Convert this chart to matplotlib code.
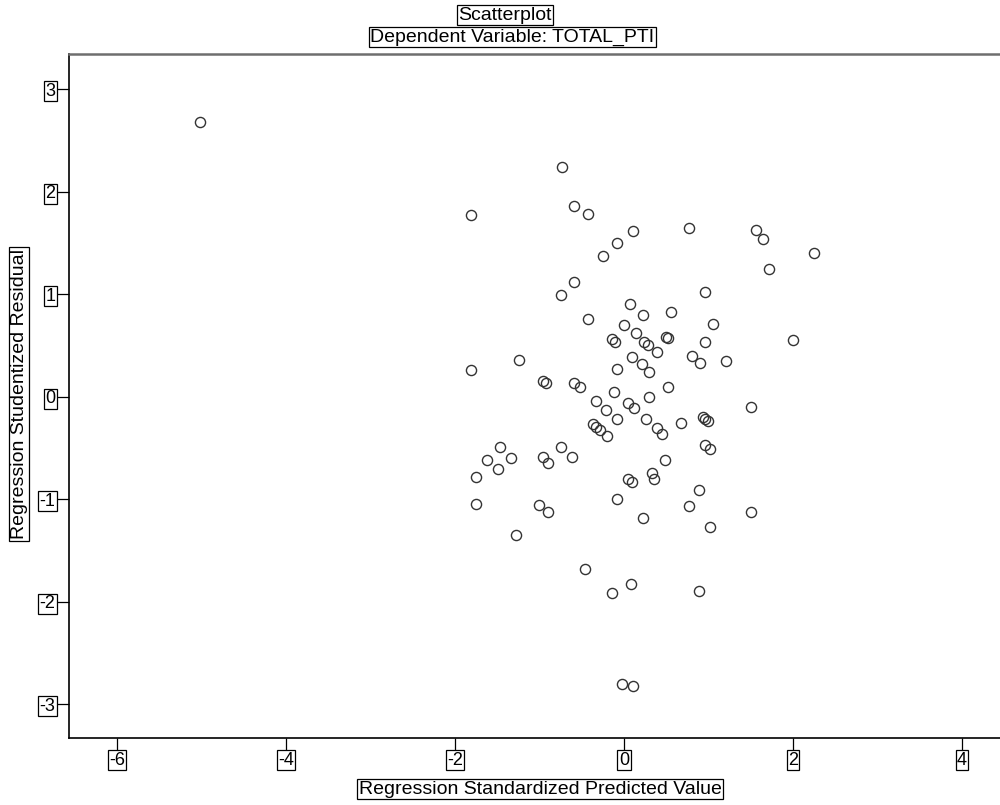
import numpy as np
import matplotlib
matplotlib.use('Agg')
import matplotlib.pyplot as plt

plt.rcParams['font.family'] = ['Liberation Sans', 'DejaVu Sans']
plt.rcParams['axes.unicode_minus'] = False

# Regression standardized predicted value (x) vs studentized residual (y)
pred = [-5.018, -0.737, -1.814, -0.588, -0.430, 0.103, -0.079, -0.245, -0.588, -0.746,
        0.075, 0.228, -0.430, 0.004, 0.142, -0.142, -0.107, 0.237, 0.284, 0.769,
        1.562, 1.649, 2.245, 1.712, 0.959, 0.553, 1.053, 0.497, 0.521, 0.959,
        1.996, 0.095, 0.394, 0.801, 0.899, 1.207, 0.209, 0.299, 0.517, 0.296,
        0.053, 0.118, 1.499, 0.260, 0.675, 0.387, 0.453, 0.931, 0.959, 0.991,
        0.959, 1.018, 0.485, 0.047, 0.095, 0.328, 0.359, 0.891, 0.769, 1.499,
        0.228, 1.018, -1.243, -1.811, -0.079, -0.962, -0.923, -0.592, -0.521, -0.118,
        -0.335, -0.213, -0.079, -0.370, -0.335, -0.284, -0.205, -1.467, -1.337, -1.625,
        -1.495, -1.751, -0.746, -0.612, -0.962, -0.903, -1.751, -1.002, -0.903, -0.079,
        -1.278, -0.462, -0.146, 0.083, 0.891, -0.020, 0.110]
resid = [2.678, 2.239, 1.774, 1.861, 1.780, 1.620, 1.500, 1.371, 1.123, 0.993,
         0.902, 0.798, 0.762, 0.703, 0.625, 0.564, 0.535, 0.535, 0.505, 1.650,
         1.624, 1.542, 1.400, 1.250, 1.022, 0.827, 0.710, 0.583, 0.574, 0.535,
         0.554, 0.391, 0.440, 0.398, 0.327, 0.352, 0.320, 0.245, 0.099, 0.001,
         -0.058, -0.112, -0.097, -0.220, -0.259, -0.301, -0.363, -0.194, -0.217, -0.236,
         -0.470, -0.509, -0.616, -0.802, -0.836, -0.746, -0.799, -0.909, -1.065, -1.124,
         -1.185, -1.267, 0.359, 0.261, 0.268, 0.157, 0.132, 0.138, 0.099, 0.050,
         -0.041, -0.129, -0.220, -0.268, -0.292, -0.324, -0.382, -0.493, -0.600, -0.617,
         -0.707, -0.780, -0.493, -0.584, -0.590, -0.649, -1.046, -1.056, -1.127, -0.997,
         -1.348, -1.683, -1.911, -1.831, -1.895, -2.805, -2.819]

xticks = [-6, -4, -2, 0, 2, 4]
yticks = [-3, -2, -1, 0, 1, 2, 3]

box = dict(boxstyle='square,pad=0.08', facecolor='white', edgecolor='black', linewidth=0.9)

fig = plt.figure(figsize=(10, 8.05), dpi=100)
ax = fig.add_axes([0.0693, 0.0832, 0.9307, 0.8497])

ax.plot(pred, resid, 'o', markersize=7.3, markerfacecolor='none',
        markeredgecolor='#333333', markeredgewidth=1.0, linestyle='none')

ax.set_xlim(-6.565, 4.45)
ax.set_ylim(-3.329, 3.344)
ax.set_xticks(xticks)
ax.set_yticks(yticks)
ax.set_xticklabels([str(t) for t in xticks])
ax.set_yticklabels([str(t) for t in yticks])
ax.tick_params(direction='out', length=9, width=0.9, pad=1, labelsize=13, colors='black')
for lab in ax.get_xticklabels() + ax.get_yticklabels():
    lab.set_bbox(box)

ax.spines['right'].set_visible(False)
ax.spines['left'].set_linewidth(1.2)
ax.spines['bottom'].set_linewidth(1.2)
ax.spines['top'].set_color('#6e6e6e')
ax.spines['top'].set_linewidth(1.8)

ax.set_xlabel('Regression Standardized Predicted Value', fontsize=14, va='center', bbox=box)
ax.xaxis.set_label_coords(0.5058, -0.0746)
ax.set_ylabel('Regression Studentized Residual', fontsize=14, va='center', ha='center', bbox=box)
ax.yaxis.set_label_coords(-0.054, 0.503)

fig.text(0.505, 1 - 15 / 805, 'Scatterplot', fontsize=14, ha='center', va='center', bbox=box)
fig.text(0.5125, 1 - 37 / 805, 'Dependent Variable: TOTAL_PTI', fontsize=14,
         ha='center', va='center', bbox=box)

plt.savefig('out.png', dpi=100)
